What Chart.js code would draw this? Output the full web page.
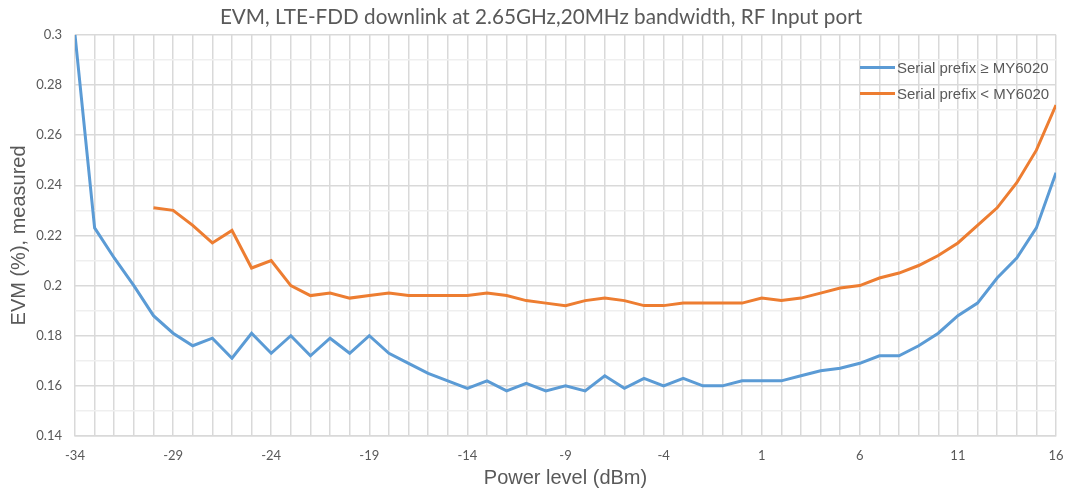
<!DOCTYPE html>
<html lang="en">
<head>
  <meta charset="UTF-8">
  <title>EVM, LTE-FDD downlink</title>
  <script src="https://cdn.jsdelivr.net/npm/chart.js"></script>
  <style>
    body { margin: 0; background: #fff; }
    #wrap { position: relative; width: 1068px; height: 494px; }
    #legend { position: absolute; left: 860px; top: 54px; font: 15px "Liberation Sans", Arial, sans-serif; color: #595959; }
    #legend div { height: 26px; display: flex; align-items: center; }
    #legend span.sw { display: inline-block; width: 35px; height: 3px; margin-right: 2px; }
  </style>
</head>
<body>
  <div id="wrap">
    <canvas id="evmChart" width="1068" height="494"></canvas>
    <div id="legend"></div>
  </div>

  <script>
    // power levels (dBm), one point per step
    const powerLevels = [-34, -33, -32, -31, -30, -29, -28, -27, -26, -25, -24, -23, -22, -21, -20,
      -19, -18, -17, -16, -15, -14, -13, -12, -11, -10, -9, -8, -7, -6, -5, -4, -3, -2, -1,
      0, 1, 2, 3, 4, 5, 6, 7, 8, 9, 10, 11, 12, 13, 14, 15, 16];

    // Serial prefix >= MY6020
    const evmNew = [0.300, 0.223, 0.211, 0.200, 0.188, 0.181, 0.176, 0.179, 0.171, 0.181, 0.173, 0.180, 0.172, 0.179, 0.173,
      0.180, 0.173, 0.169, 0.165, 0.162, 0.159, 0.162, 0.158, 0.161, 0.158, 0.160, 0.158, 0.164, 0.159, 0.163, 0.160, 0.163, 0.160, 0.160,
      0.162, 0.162, 0.162, 0.164, 0.166, 0.167, 0.169, 0.172, 0.172, 0.176, 0.181, 0.188, 0.193, 0.203, 0.211, 0.223, 0.245];

    // Serial prefix < MY6020 (starts at -30 dBm)
    const evmOld = [null, null, null, null, 0.231, 0.230, 0.224, 0.217, 0.222, 0.207, 0.210, 0.200, 0.196, 0.197, 0.195,
      0.196, 0.197, 0.196, 0.196, 0.196, 0.196, 0.197, 0.196, 0.194, 0.193, 0.192, 0.194, 0.195, 0.194, 0.192, 0.192, 0.193, 0.193, 0.193,
      0.193, 0.195, 0.194, 0.195, 0.197, 0.199, 0.200, 0.203, 0.205, 0.208, 0.212, 0.217, 0.224, 0.231, 0.241, 0.254, 0.272];

    const seriesNames = ['Serial prefix \u2265 MY6020', 'Serial prefix < MY6020'];
    const seriesColors = ['#5B9BD5', '#ED7D31'];

    const xMin = -34, xMax = 16;
    const yMin = 0.14, yMax = 0.3;

    const toPoints = vals => powerLevels.map((p, i) => ({ x: p, y: vals[i] }));

    const font = 'Lato, sans-serif';
    const axisFont = '"Liberation Sans", Arial, sans-serif';
    const textColor = '#595959';

    new Chart(document.getElementById('evmChart').getContext('2d'), {
      type: 'line',
      data: {
        datasets: [evmNew, evmOld].map((vals, i) => ({
          label: seriesNames[i],
          data: toPoints(vals),
          borderColor: seriesColors[i],
          backgroundColor: seriesColors[i],
          borderWidth: 3,
          pointRadius: 0,
          tension: 0,
          spanGaps: false
        }))
      },
      options: {
        responsive: false,
        animation: false,
        layout: { padding: { left: 14, right: 0, top: 0, bottom: 0 } },
        plugins: {
          legend: { display: false },
          tooltip: { enabled: false },
          title: {
            display: true,
            text: 'EVM, LTE-FDD downlink at 2.65GHz,20MHz bandwidth, RF Input port',
            color: textColor,
            font: { family: font, size: 20.7, weight: 'normal' },
            padding: { top: 5, bottom: 5 }
          }
        },
        scales: {
          x: {
            type: 'linear',
            min: xMin,
            max: xMax,
            ticks: {
              stepSize: 1,
              autoSkip: false,
              maxRotation: 0,
              padding: 12,
              color: textColor,
              font: { family: font, size: 13 },
              callback: v => ((v - xMin) % 5 === 0 ? v : '')
            },
            grid: { color: '#d9d9d9', lineWidth: 1.5, drawTicks: false },
            border: { color: '#d9d9d9', width: 1.5 },
            title: {
              display: true,
              text: 'Power level (dBm)',
              color: textColor,
              font: { family: axisFont, size: 20 },
              padding: { top: 2, bottom: 4 }
            },
            afterFit: s => { s.height = 58; s.paddingRight = 12; }
          },
          y: {
            min: yMin,
            max: yMax,
            ticks: {
              stepSize: 0.01,
              color: textColor,
              font: { family: font, size: 13 },
              padding: 13,
              callback: v => (Math.round(v * 100) % 2 === 0 ? +v.toFixed(2) : '')
            },
            grid: {
              color: c => (Math.round(c.tick.value * 100) % 2 === 0 ? '#d9d9d9' : '#efefef'),
              lineWidth: 1.5,
              drawTicks: false
            },
            border: { display: false },
            title: {
              display: true,
              text: 'EVM (%), measured',
              color: textColor,
              font: { family: axisFont, size: 20 },
              padding: { top: -7, bottom: 4 }
            },
            afterFit: s => { s.width = 61; }
          }
        }
      }
    });

    // legend as html so it can sit inside the plot, stacked
    const legendEl = document.getElementById('legend');
    seriesNames.forEach((name, i) => {
      const row = document.createElement('div');
      const sw = document.createElement('span');
      sw.className = 'sw';
      sw.style.background = seriesColors[i];
      row.appendChild(sw);
      row.appendChild(document.createTextNode(name));
      legendEl.appendChild(row);
    });
  </script>
</body>
</html>
